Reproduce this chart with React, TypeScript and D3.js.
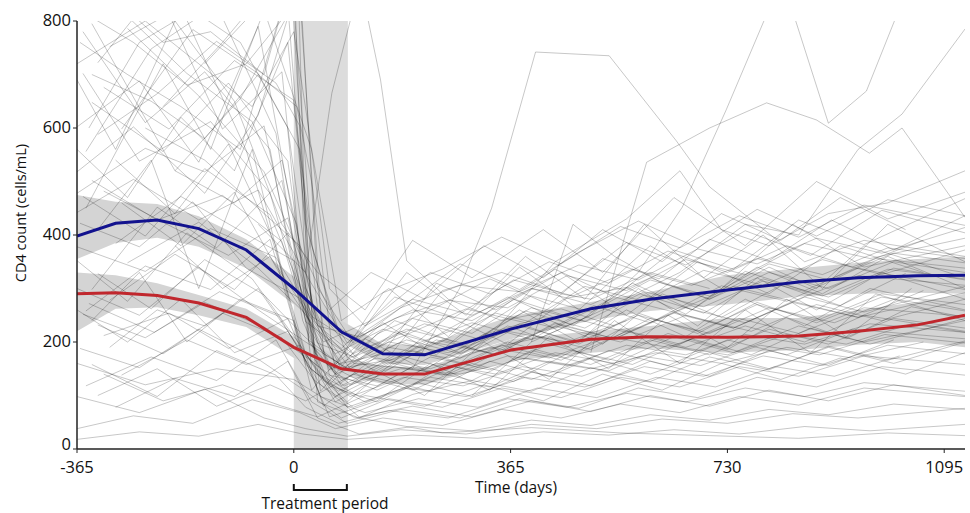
import React from 'react';
import * as d3 from 'd3';

type Pt = [number, number];

const xTicks = [-365, 0, 365, 730, 1095];
const yTicks = [0, 200, 400, 600, 800];
const treatmentDays = [0, 91];

// individual patients, [day, CD4 count]
const highStart: Pt[][] = [
  [[-355,780],[-250,610],[-150,705],[-40,560],[15,240],[60,120],[140,215],[235,262],[330,318],[430,270],[520,356],[615,318],[700,392],[800,352],[905,428],[1010,372],[1130,436]],
  [[-340,795],[-200,520],[-90,655],[10,850],[50,178],[110,138],[205,196],[300,236],[400,205],[505,268],[600,236],[720,305],[830,276],[950,338],[1130,298]],
  [[-330,722],[-230,860],[-120,598],[-20,705],[30,150],[90,88],[170,165],[260,248],[360,196],[460,282],[560,302],[660,252],[760,332],[860,296],[980,356],[1130,338]],
  [[-365,602],[-260,688],[-160,536],[-60,790],[20,302],[70,158],[150,236],[240,176],[340,268],[440,336],[540,284],[640,372],[740,336],[850,428],[960,382],[1130,468]],
  [[-300,830],[-180,702],[-70,612],[5,420],[45,108],[120,206],[220,148],[320,214],[420,246],[520,196],[620,290],[720,246],[820,306],[920,268],[1030,328]],
  [[-350,556],[-240,748],[-130,830],[-30,590],[25,202],[80,128],[160,172],[250,296],[350,330],[450,292],[560,386],[660,344],[760,408],[870,362],[990,446],[1130,404]],
  [[-320,676],[-210,598],[-100,726],[0,652],[40,262],[100,178],[190,224],[290,196],[390,258],[490,226],[590,288],[690,254],[790,318],[900,284],[1010,338],[1130,316]],
  [[-280,786],[-160,660],[-50,518],[15,352],[60,138],[140,118],[230,172],[330,148],[430,196],[530,166],[630,216],[730,186],[830,246],[930,206],[1040,266],[1130,246]],
  [[-365,518],[-270,602],[-150,478],[-60,624],[10,880],[40,302],[100,198],[180,264],[280,346],[380,298],[480,368],[580,426],[680,376],[780,448],[880,398],[1000,466],[1130,436]],
  [[-340,648],[-220,556],[-110,684],[-10,538],[35,168],[90,78],[180,112],[270,154],[370,126],[470,184],[570,158],[670,206],[770,176],[870,226],[970,196],[1130,244]],
  [[-310,752],[-190,826],[-80,558],[20,178],[70,98],[150,142],[240,204],[340,176],[440,236],[540,206],[640,256],[740,226],[840,276],[950,246],[1060,296]],
  [[-355,702],[-260,538],[-140,612],[-40,478],[15,268],[65,148],[150,292],[250,336],[350,396],[450,346],[550,416],[650,376],[750,436],[850,396],[960,456],[1130,418]],
  [[-290,598],[-170,784],[-60,702],[10,560],[50,222],[110,168],[200,244],[300,216],[400,286],[500,256],[600,316],[700,286],[800,346],[900,316],[1010,366],[1130,348]],
  [[-365,478],[-250,562],[-150,518],[-50,604],[20,238],[80,188],[170,284],[270,246],[370,316],[470,286],[570,336],[670,306],[780,356],[890,326],[1000,376],[1130,356]],
  [[-330,588],[-230,664],[-130,762],[-30,684],[10,604],[40,88],[110,58],[200,102],[300,128],[400,108],[500,152],[600,126],[700,172],[800,148],[900,192],[1000,166],[1130,202]],
  [[-220,640],[-120,760],[-15,900],[30,260],[80,150],[160,200],[260,180],[360,220],[460,200],[560,240]],
  [[-150,720],[-40,850],[5,960],[25,200],[70,140],[140,170],[230,150],[330,190],[430,170],[530,210],[630,190],[730,230]],
  [[-360,760],[-280,700],[-190,640],[-90,560],[-5,880],[35,180],[95,120],[180,150],[280,140],[390,170],[500,150],[610,180],[720,160],[830,190],[940,170],[1060,200]],
];

const midStart: Pt[][] = [
  [[-360,422],[-260,378],[-170,462],[-80,338],[10,282],[60,148],[130,192],[220,234],[310,206],[400,264],[490,238],[590,294],[690,266],[790,314],[890,286],[1000,336],[1130,318]],
  [[-340,298],[-230,452],[-130,376],[-20,502],[30,218],[80,118],[160,162],[250,138],[350,194],[450,166],[550,224],[650,196],[750,244],[850,216],[960,264],[1130,248]],
  [[-365,352],[-280,276],[-180,404],[-70,318],[15,188],[70,88],[140,132],[230,108],[330,164],[430,136],[530,184],[630,156],[730,204],[830,176],[940,224],[1130,206]],
  [[-320,482],[-210,418],[-110,362],[-10,432],[40,198],[100,172],[190,214],[290,262],[390,236],[490,304],[590,276],[690,334],[790,306],[890,354],[990,326],[1130,372]],
  [[-350,258],[-250,342],[-140,298],[-40,392],[20,158],[75,108],[160,154],[250,204],[340,176],[440,234],[540,206],[640,254],[740,226],[840,274],[950,246],[1130,292]],
  [[-300,384],[-190,472],[-90,408],[0,352],[50,128],[120,88],[210,124],[300,98],[400,144],[500,118],[600,164],[700,136],[800,184],[900,156],[1010,204]],
  [[-365,442],[-270,504],[-160,428],[-60,484],[25,318],[90,198],[170,244],[260,278],[360,264],[460,324],[560,296],[660,354],[760,326],[860,384],[970,356],[1130,394]],
  [[-330,328],[-240,262],[-150,354],[-50,288],[20,208],[85,152],[170,168],[260,224],[360,284],[460,248],[560,218],[660,264],[760,236],[860,284],[960,256],[1130,304]],
  [[-355,472],[-250,398],[-150,524],[-40,438],[35,238],[100,162],[190,204],[280,178],[380,234],[480,196],[580,254],[680,216],[780,274],[880,236],[990,284],[1130,258]],
  [[-310,278],[-200,364],[-100,298],[-10,404],[45,138],[110,98],[200,154],[300,128],[400,184],[500,158],[600,204],[700,176],[800,224],[900,196],[1010,244],[1130,226]],
  [[-365,378],[-250,332],[-140,412],[-30,358],[30,248],[95,202],[180,264],[280,306],[380,294],[480,344],[580,316],[680,374],[780,346],[880,394],[990,366],[1130,414]],
  [[-340,502],[-230,428],[-120,474],[-20,388],[40,168],[110,128],[200,184],[300,156],[400,214],[500,186],[600,244],[700,216],[800,264],[910,236],[1020,284]],
  [[-280,348],[-160,424],[-60,338],[15,258],[70,178],[150,224],[240,196],[340,254],[440,226],[540,284],[640,256],[740,304],[840,276],[950,324],[1130,306]],
  [[-200,520],[-100,460],[-20,540],[40,230],[110,210],[200,260],[300,240],[400,300],[500,280],[600,330],[700,300]],
];

const lowStart: Pt[][] = [
  [[-360,188],[-260,152],[-160,224],[-60,168],[20,108],[80,58],[160,94],[250,78],[350,114],[450,96],[550,134],[650,116],[750,154],[850,136],[960,174],[1130,158]],
  [[-350,118],[-240,172],[-130,128],[-30,204],[30,88],[90,48],[180,74],[280,58],[380,94],[480,76],[580,114],[680,96],[780,134],[880,116],[990,154],[1130,138]],
  [[-365,38],[-270,62],[-170,48],[-70,92],[10,68],[70,38],[150,58],[250,44],[350,74],[450,58],[550,84],[650,68],[750,98],[850,82],[960,114],[1130,98]],
  [[-330,232],[-220,178],[-120,254],[-20,208],[35,128],[100,78],[190,114],[290,98],[390,134],[490,116],[590,154],[690,136],[790,174],[890,156],[1000,194],[1130,178]],
  [[-300,78],[-200,132],[-100,98],[-10,164],[40,58],[110,28],[200,42],[300,34],[400,54],[500,44],[600,64],[700,54],[800,74],[900,64],[1010,84],[1130,74]],
  [[-355,252],[-250,208],[-150,274],[-50,228],[25,168],[85,118],[170,154],[260,138],[360,174],[460,156],[560,194],[660,176],[760,214],[860,196],[970,234],[1130,218]],
  [[-340,158],[-230,98],[-130,184],[-30,138],[20,78],[75,48],[160,72],[260,58],[360,94],[460,78],[560,104],[660,88],[760,114],[860,98],[960,124],[1130,108]],
  [[-365,18],[-260,32],[-160,24],[-60,46],[15,28],[90,18],[200,26],[310,20],[420,32],[530,26],[640,36],[750,28],[860,42],[970,34],[1130,46]],
  [[-320,212],[-210,254],[-110,188],[-10,244],[45,98],[120,68],[210,94],[310,78],[410,114],[510,96],[610,134],[710,116],[810,154],[910,136],[1020,174]],
  [[-290,138],[-180,204],[-80,158],[10,194],[60,118],[140,88],[230,134],[330,116],[430,164],[530,146],[630,194],[730,176],[830,214],[930,196],[1040,234],[1130,218]],
  [[-365,98],[-260,68],[-150,112],[-50,58],[20,38],[90,24],[180,36],[290,28],[400,46],[510,38],[620,56],[730,48],[840,66],[950,58],[1130,76]],
  [[-345,272],[-235,218],[-125,294],[-25,248],[30,148],[95,98],[185,134],[285,118],[385,154],[485,136],[585,174],[685,156],[785,194],[885,176],[995,214],[1130,198]],
  [[-365,160],[-250,120],[-130,150],[0,130],[100,60],[250,30],[400,40],[550,30],[700,25],[850,20],[1000,30],[1130,25]],
];

const mixedCourse: Pt[][] = [
  [[-365,690],[-300,560],[-200,800],[-100,650],[-20,420],[40,330],[120,260],[200,390],[300,320],[420,410],[520,330],[640,470],[760,380],[880,500],[1000,430],[1130,480]],
  [[-350,450],[-220,720],[-140,560],[-50,820],[30,560],[80,240],[160,300],[260,210],[380,340],[480,260],[600,380],[720,300],[840,420],[960,340],[1130,380]],
  [[-340,240],[-260,330],[-180,200],[-90,280],[0,240],[50,80],[130,150],[220,100],[320,200],[430,130],[540,240],[650,160],[760,260],[870,180],[980,290],[1130,240]],
  [[-300,540],[-200,440],[-110,570],[-30,380],[30,110],[100,200],[190,330],[290,250],[390,360],[490,280],[590,420],[690,320],[790,400],[890,300],[1000,420],[1130,350]],
  [[-365,560],[-280,470],[-190,620],[-100,520],[-10,760],[20,420],[70,230],[150,180],[240,310],[340,260],[450,330],[560,250],[680,350],[800,290],[920,380],[1060,330]],
  [[-330,410],[-240,540],[-160,300],[-70,560],[10,190],[60,60],[140,90],[230,160],[330,110],[430,210],[530,150],[630,250],[730,190],[830,280],[930,210],[1040,300]],
  [[-360,820],[-270,760],[-180,680],[-80,720],[0,830],[30,380],[90,170],[170,240],[270,200],[370,280],[470,230],[570,310],[670,260],[780,340],[890,290],[1000,360],[1130,300]],
  [[-310,190],[-230,260],[-150,230],[-60,300],[15,180],[75,120],[160,190],[260,170],[360,230],[460,190],[560,260],[660,210],[760,280],[860,230],[970,300],[1130,260]],
  [[-365,300],[-260,250],[-160,340],[-60,260],[20,200],[90,150],[180,220],[280,180],[380,260],[480,200],[580,300],[680,230],[780,320],[880,260],[990,330],[1130,280]],
  [[-250,600],[-150,540],[-60,450],[10,380],[60,260],[130,330],[220,280],[320,380],[420,320],[520,410],[620,350],[720,440],[820,390],[920,470],[1030,410]],
  [[-340,700],[-240,650],[-150,580],[-60,700],[5,640],[30,500],[70,140],[140,110],[240,160],[340,140],[440,180],[540,160],[640,210],[740,180],[850,230],[960,200],[1130,240]],
  [[-320,140],[-220,90],[-120,120],[-20,80],[40,60],[120,100],[220,80],[320,120],[420,90],[520,140],[620,110],[720,160],[820,130],[920,170],[1030,140],[1130,180]],
  [[-365,720],[-250,800],[-160,720],[-70,640],[0,780],[25,600],[60,300],[120,230],[200,280],[300,250],[400,300],[500,270],[600,320],[700,280],[800,330],[900,300],[1010,350],[1130,330]],
  [[-290,460],[-190,380],[-100,480],[-10,300],[50,200],[130,240],[230,330],[330,290],[430,350],[530,310],[630,370],[730,330],[830,380],[940,340],[1060,390]],
  [[-365,260],[-280,200],[-190,280],[-100,180],[-10,220],[45,120],[110,60],[200,80],[300,60],[400,90],[500,70],[600,100],[700,80],[800,110],[900,90],[1010,120],[1130,100]],
  [[-200,380],[-120,300],[-40,360],[20,260],[80,160],[160,180],[260,150],[360,200],[460,170],[560,220],[660,190],[760,230],[860,200],[960,250],[1130,220]],
  [[-345,600],[-260,760],[-170,820],[-90,760],[-10,600],[35,240],[95,150],[180,200],[280,170],[380,230],[480,200],[580,250],[680,220],[780,270],[880,240],[990,290],[1130,270]],
  [[-330,100],[-230,150],[-130,80],[-40,120],[20,90],[100,140],[200,110],[300,160],[400,130],[500,170],[600,140],[700,180],[800,150],[900,190],[1010,160],[1130,200]],
  [[-365,800],[-300,840],[-220,760],[-140,780],[-50,700],[0,900],[20,300],[60,200],[130,150],[230,200],[330,180],[440,230],[550,200],[660,250],[770,220],[880,270],[990,240],[1130,280]],
  [[300,100],[400,200],[470,420],[540,360],[620,310],[700,280],[800,340],[880,300],[960,380],[1130,320]],
];

const lateRisers: Pt[][] = [
  [[-60,420],[20,330],[64,665],[104,840],[118,840],[146,690],[190,352],[260,280],[350,240],[450,262],[540,230]],
  [[100,160],[200,150],[279,300],[333,450],[407,742],[531,735],[644,576],[700,490],[780,420],[860,350],[960,390],[1130,360]],
  [[300,180],[420,210],[500,250],[580,330],[654,452],[728,634],[822,880],[900,609],[964,669],[1040,880]],
  [[400,200],[520,260],[650,330],[760,420],[850,400],[950,560],[1024,626],[1130,785]],
  [[500,180],[594,536],[700,600],[796,647],[880,615],[969,553],[1024,600],[1130,433]],
  [[200,120],[330,210],[440,350],[560,430],[650,520],[720,410],[800,380],[900,440],[1000,460],[1130,520]],
];

// smoothed group means with confidence bands
const fitDays = [-365, -300, -230, -160, -80, 0, 80, 150, 220, 365, 500, 600, 730, 850, 950, 1050, 1130];
const blueFit = [398, 422, 428, 412, 372, 300, 219, 178, 176, 224, 262, 280, 297, 312, 320, 324, 325];
const blueLo = [355, 385, 395, 378, 338, 270, 200, 160, 157, 205, 240, 258, 270, 285, 290, 292, 290];
const blueHi = [475, 462, 458, 435, 392, 322, 240, 196, 193, 248, 275, 294, 325, 338, 348, 355, 360];
const redFit = [290, 292, 287, 273, 246, 190, 150, 140, 140, 185, 205, 210, 209, 211, 220, 232, 250];
const redLo = [220, 262, 265, 250, 228, 170, 138, 122, 120, 165, 180, 188, 180, 185, 195, 200, 190];
const redHi = [330, 325, 310, 288, 262, 210, 172, 155, 152, 205, 220, 230, 245, 245, 260, 275, 290];

const W = 970, H = 513;
const m = { left: 77, right: 965, top: 21, bottom: 449 };
const font = "'Open Sans', sans-serif";

export default function App() {
  const x = d3.scaleLinear().domain([-365, 1130]).range([m.left, m.right]);
  const y = d3.scaleLinear().domain([0, 800]).range([m.bottom, m.top]);

  const patientLine = d3.line<Pt>().x(d => x(d[0])).y(d => y(d[1]));
  const fitLine = (vals: number[]) =>
    d3.line<number>().x((d, i) => x(fitDays[i])).y(d => y(d))(vals) || '';
  const band = (lo: number[], hi: number[]) =>
    d3.area<number>().x((d, i) => x(fitDays[i])).y0((d, i) => y(lo[i])).y1(d => y(d))(hi) || '';

  const patients = [...highStart, ...midStart, ...lowStart, ...mixedCourse, ...lateRisers];

  return (
    <svg width={W} height={H} style={{ position: 'absolute', left: 0, top: 0, background: '#fff' }}>
      <defs>
        <clipPath id="plot">
          <rect x={m.left} y={m.top} width={m.right - m.left} height={m.bottom - m.top} />
        </clipPath>
      </defs>
      <g clipPath="url(#plot)">
        <rect x={x(treatmentDays[0])} y={m.top} width={x(treatmentDays[1]) - x(treatmentDays[0])}
          height={m.bottom - m.top} fill="#dcdcdc" />
        <path d={band(blueLo, blueHi)} fill="#d4d4d4" />
        <path d={band(redLo, redHi)} fill="#d4d4d4" />
        {patients.map((p, i) => (
          <path key={i} d={patientLine(p) || ''} fill="none" stroke="#000" strokeOpacity={0.22} strokeWidth={1} />
        ))}
        <path d={fitLine(blueFit)} fill="none" stroke="#12128e" strokeWidth={3} />
        <path d={fitLine(redFit)} fill="none" stroke="#c0272d" strokeWidth={3} />
      </g>

      {/* axes */}
      <line x1={m.left} x2={m.right} y1={m.bottom} y2={m.bottom} stroke="#222" strokeWidth={1.5} />
      <line x1={m.left} x2={m.left} y1={m.top} y2={m.bottom} stroke="#222" strokeWidth={1.5} />
      {xTicks.map(t => (
        <g key={t}>
          <line x1={x(t)} x2={x(t)} y1={m.bottom} y2={m.bottom + 4} stroke="#222" />
          <text x={x(t)} y={473} textAnchor="middle" fontFamily={font} fontSize={16.5} fill="#111">{t}</text>
        </g>
      ))}
      {yTicks.map(t => (
        <g key={t}>
          <line x1={m.left - 4} x2={m.left} y1={y(t)} y2={y(t)} stroke="#222" />
          <text x={71} y={Math.min(y(t) + 5, 450)} textAnchor="end" fontFamily={font} fontSize={16.5} fill="#111">{t}</text>
        </g>
      ))}
      <text transform="translate(26,213) rotate(-90)" textAnchor="middle" fontFamily={font} fontSize={14.5} fill="#111">
        CD4 count (cells/mL)
      </text>
      <text x={516} y={493} textAnchor="middle" fontFamily={font} fontSize={15.5} fill="#111">Time (days)</text>
      <path d={`M${x(treatmentDays[0])},484V490H${x(treatmentDays[1]) - 1}V484`} fill="none" stroke="#111" strokeWidth={2} />
      <text x={325} y={509} textAnchor="middle" fontFamily={font} fontSize={15.5} fill="#111">Treatment period</text>
    </svg>
  );
}
